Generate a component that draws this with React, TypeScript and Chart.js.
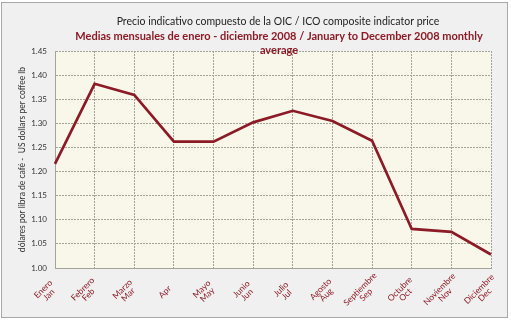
import React, { useEffect, useRef } from "react";
import { Chart, registerables } from "chart.js";

Chart.register(...registerables);

const months: string[][] = [
  ["Enero", "Jan"],
  ["Febrero", "Feb"],
  ["Marzo", "Mar"],
  ["Apr"],
  ["Mayo", "May"],
  ["Junio", "Jun"],
  ["Julio", "Jul"],
  ["Agosto", "Aug"],
  ["Septiembre", "Sep"],
  ["Octubre", "Oct"],
  ["Noviembre", "Nov"],
  ["Diciembre", "Dec"],
];

const prices: number[] = [1.216, 1.382, 1.359, 1.262, 1.262, 1.302, 1.326, 1.305, 1.264, 1.081, 1.075, 1.028];

const titleLine = "Precio indicativo compuesto de la OIC / ICO composite indicator price";
const subtitleLines = ["Medias mensuales de enero - diciembre 2008 / January to December 2008 monthly", "average"];
const yAxisTitle = "dólares por libra de café -  US dollars per coffee lb";

const RED = "#8c1b27";
const GRID = "#a3a39a";

export default function App() {
  const ref = useRef<HTMLCanvasElement | null>(null);

  useEffect(() => {
    document.body.style.margin = "0";
    const canvas = ref.current!;
    const framePlugin = {
      id: "frame",
      beforeDraw(chart: any) {
        const c = chart.ctx;
        c.save();
        c.fillStyle = "#ffffff";
        c.fillRect(0, 0, chart.width, chart.height);
        c.fillStyle = "#eff0ef";
        c.fillRect(1.5, 2.5, 506, 315);
        c.strokeStyle = "#a8a8a8";
        c.lineWidth = 1;
        c.strokeRect(1.5, 2.5, 506, 315);
        const a = chart.chartArea;
        c.fillStyle = "#f8f7ea";
        c.fillRect(a.left, a.top, a.right - a.left, a.bottom - a.top);
        c.restore();
      },
      afterDraw(chart: any) {
        const c = chart.ctx;
        c.save();
        c.textAlign = "center";
        c.textBaseline = "middle";
        c.fillStyle = "#222222";
        c.font = "10.5px Lato";
        c.fillText(titleLine, 278, 22);
        c.fillStyle = RED;
        c.font = "bold 11px Lato";
        c.fillText(subtitleLines[0], 279, 36);
        c.fillText(subtitleLines[1], 279, 50);

        // x labels, rotated -45deg, centered multi-line blocks
        const xs = chart.scales.x;
        const bottom = chart.chartArea.bottom;
        c.font = "8.5px Lato";
        c.fillStyle = RED;
        const lh = 8;
        const labels = chart.data.labels as string[][];
        labels.forEach((lines, i) => {
          const x = xs.getPixelForTick(i);
          const cx = x - 9;
          const cy = bottom + 24;
          c.save();
          c.translate(cx, cy);
          c.rotate(-Math.PI / 4);
          const n = lines.length;
          lines.forEach((t, j) => {
            c.fillText(t, 0, (j - (n - 1) / 2) * lh);
          });
          c.restore();
        });
        c.restore();
      },
    };

    const chart = new Chart(canvas, {
      type: "line",
      data: {
        labels: months,
        datasets: [
          {
            data: prices,
            borderColor: RED,
            borderWidth: 2.7,
            pointRadius: 0,
            fill: false,
            tension: 0,
          },
        ],
      },
      options: {
        animation: false,
        responsive: false,
        maintainAspectRatio: false,
        layout: { padding: { top: 51, right: 20, left: 0, bottom: 0 } },
        plugins: { legend: { display: false }, tooltip: { enabled: false }, title: { display: false } },
        scales: {
          x: {
            offset: false,
            grid: { color: GRID, lineWidth: 1, drawTicks: false },
            border: { display: true, color: GRID, dash: [2, 1] },
            ticks: { display: false },
            afterFit(s: any) {
              s.height = 320 - 268;
            },
          },
          y: {
            min: 1.0,
            max: 1.45,
            grid: { color: GRID, lineWidth: 1, drawTicks: false },
            border: { display: true, color: GRID, dash: [2, 1] },
            ticks: {
              stepSize: 0.05,
              color: "#333333",
              font: { family: "Lato", size: 8 },
              padding: 8,
              callback: (v: any) => Number(v).toFixed(2),
            },
            title: {
              display: true,
              text: yAxisTitle,
              color: "#333333",
              font: { family: "Lato", size: 8.5 },
              padding: { top: 17, bottom: 0 },
            },
            afterFit(s: any) {
              s.width = 55;
            },
          },
        },
      } as any,
      plugins: [framePlugin],
    });
    return () => chart.destroy();
  }, []);

  return (
    <div style={{ position: "relative", width: 511, height: 320 }}>
      <canvas ref={ref} width={511} height={320} style={{ display: "block" }} />
    </div>
  );
}
